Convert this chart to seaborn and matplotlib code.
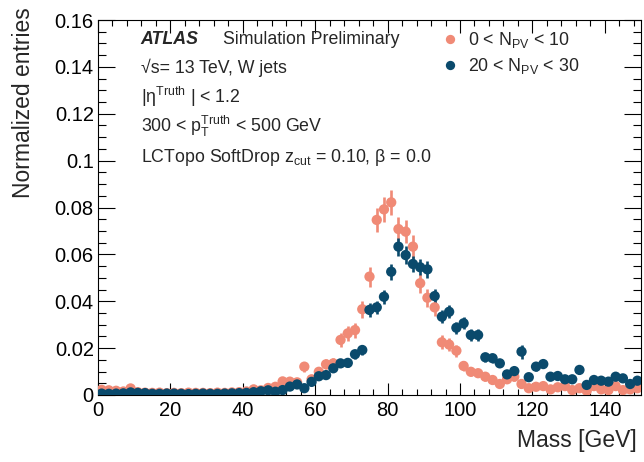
import numpy as np
import pandas as pd
import matplotlib
matplotlib.use("Agg")
import matplotlib.pyplot as plt
import seaborn as sns
from matplotlib.ticker import MultipleLocator, FixedLocator, FixedFormatter
from matplotlib.lines import Line2D

# ---------------- data ----------------
mass_centers = list(range(1, 150, 2))  # 2 GeV bins, 0-150 GeV

low_pv = [0.0022, 0.0020, 0.0018, 0.0015, 0.0028, 0.0012, 0.0010, 0.0009, 0.0010, 0.0008,
          0.0009, 0.0008, 0.0010, 0.0009, 0.0009, 0.0008, 0.0010, 0.0009, 0.0011, 0.0012,
          0.0015, 0.0024, 0.0020, 0.0030, 0.0035,
          0.0058, 0.0057, 0.0054, 0.0121, 0.0067, 0.0099, 0.0131, 0.0135, 0.0235, 0.0263,
          0.0277, 0.0366, 0.0505, 0.0747, 0.0792, 0.0822, 0.0708, 0.0697, 0.0633, 0.0477,
          0.0415, 0.0374, 0.0225, 0.0215, 0.0189, 0.0124, 0.0099, 0.0093, 0.0078, 0.0064,
          0.0047, 0.0067, 0.0078, 0.0047, 0.0029, 0.0035, 0.0038, 0.0024, 0.0033, 0.0038,
          0.0021, 0.0029, 0.0018, 0.0038, 0.0024, 0.0021, 0.0038, 0.0021, 0.0024, 0.0029]
low_pv_err = [0.0009, 0.0009, 0.0008, 0.0008, 0.0010, 0.0007, 0.0006, 0.0006, 0.0006, 0.0005,
              0.0006, 0.0005, 0.0006, 0.0006, 0.0006, 0.0005, 0.0006, 0.0006, 0.0006, 0.0007,
              0.0007, 0.0009, 0.0008, 0.0010, 0.0011,
              0.0014, 0.0014, 0.0014, 0.0021, 0.0016, 0.0019, 0.0022, 0.0022, 0.0029, 0.0031,
              0.0032, 0.0036, 0.0043, 0.0052, 0.0053, 0.0054, 0.0050, 0.0050, 0.0048, 0.0041,
              0.0039, 0.0037, 0.0029, 0.0028, 0.0026, 0.0021, 0.0019, 0.0018, 0.0017, 0.0015,
              0.0013, 0.0016, 0.0017, 0.0013, 0.0010, 0.0011, 0.0012, 0.0009, 0.0011, 0.0012,
              0.0009, 0.0010, 0.0008, 0.0012, 0.0009, 0.0009, 0.0012, 0.0009, 0.0009, 0.0010]

high_pv = [0.0006, 0.0005, 0.0006, 0.0007, 0.0011, 0.0009, 0.0008, 0.0005, 0.0005, 0.0006,
           0.0006, 0.0005, 0.0004, 0.0005, 0.0006, 0.0005, 0.0005, 0.0006, 0.0007, 0.0008,
           0.0009, 0.0012, 0.0016, 0.0020, 0.0014,
           0.0021, 0.0036, 0.0045, 0.0029, 0.0056, 0.0080, 0.0085, 0.0114, 0.0135, 0.0137,
           0.0174, 0.0192, 0.0363, 0.0374, 0.0419, 0.0526, 0.0633, 0.0597, 0.0559, 0.0545,
           0.0536, 0.0422, 0.0334, 0.0355, 0.0287, 0.0306, 0.0256, 0.0256, 0.0161, 0.0157,
           0.0135, 0.0088, 0.0102, 0.0185, 0.0076, 0.0121, 0.0132, 0.0078, 0.0081, 0.0067,
           0.0067, 0.0107, 0.0043, 0.0064, 0.0061, 0.0057, 0.0078, 0.0071, 0.0047, 0.0061]
high_pv_err = [0.0004, 0.0004, 0.0004, 0.0004, 0.0005, 0.0004, 0.0004, 0.0004, 0.0004, 0.0004,
               0.0004, 0.0004, 0.0003, 0.0004, 0.0004, 0.0004, 0.0004, 0.0004, 0.0004, 0.0004,
               0.0005, 0.0005, 0.0006, 0.0007, 0.0006,
               0.0007, 0.0009, 0.0010, 0.0008, 0.0011, 0.0013, 0.0014, 0.0016, 0.0017, 0.0018,
               0.0020, 0.0021, 0.0029, 0.0029, 0.0031, 0.0034, 0.0038, 0.0037, 0.0035, 0.0035,
               0.0035, 0.0031, 0.0027, 0.0028, 0.0025, 0.0026, 0.0024, 0.0024, 0.0019, 0.0019,
               0.0017, 0.0014, 0.0015, 0.0030, 0.0013, 0.0018, 0.0018, 0.0013, 0.0013, 0.0012,
               0.0012, 0.0018, 0.0010, 0.0012, 0.0012, 0.0011, 0.0013, 0.0012, 0.0010, 0.0012]

series_labels = [r"0 < N$_{\mathrm{PV}}$ < 10", r"20 < N$_{\mathrm{PV}}$ < 30"]
series_colors = ["#F08A76", "#0A4A6C"]
y_tick_values = [0, 0.02, 0.04, 0.06, 0.08, 0.1, 0.12, 0.14, 0.16]
y_tick_labels = ["0", "0.02", "0.04", "0.06", "0.08", "0.1", "0.12", "0.14", "0.16"]
x_tick_values = [0, 20, 40, 60, 80, 100, 120, 140]

df = pd.concat([
    pd.DataFrame({"mass": mass_centers, "val": low_pv, "err": low_pv_err, "series": series_labels[0]}),
    pd.DataFrame({"mass": mass_centers, "val": high_pv, "err": high_pv_err, "series": series_labels[1]}),
], ignore_index=True)

# ---------------- style ----------------
sns.set_style("ticks")
plt.rcParams["font.family"] = ["Liberation Sans", "DejaVu Sans"]
plt.rcParams["mathtext.fontset"] = "custom"
plt.rcParams["mathtext.rm"] = "Liberation Sans"
plt.rcParams["mathtext.it"] = "Liberation Sans"
plt.rcParams["mathtext.bf"] = "Liberation Sans:bold"
plt.rcParams["mathtext.sf"] = "Liberation Sans"

W, H = 644, 462
fig = plt.figure(figsize=(W / 100, H / 100), dpi=100)
ax = fig.add_axes([98 / W, 67 / H, 543 / W, 375 / H])

palette = dict(zip(series_labels, series_colors))
for lab in series_labels:
    sub = df[df["series"] == lab]
    ax.errorbar(sub["mass"], sub["val"], yerr=sub["err"], fmt="none",
                ecolor=palette[lab], elinewidth=1.9, capsize=0, zorder=2)
    sns.scatterplot(data=sub, x="mass", y="val", color=palette[lab], s=55,
                    edgecolor="none", linewidth=0, ax=ax, zorder=3, legend=False)

ax.set_xlim(0, 150)
ax.set_ylim(0, 0.16)
ax.xaxis.set_major_locator(FixedLocator(x_tick_values))
ax.xaxis.set_minor_locator(MultipleLocator(4))
ax.yaxis.set_major_locator(FixedLocator(y_tick_values))
ax.yaxis.set_major_formatter(FixedFormatter(y_tick_labels))
ax.yaxis.set_minor_locator(MultipleLocator(0.005))
ax.tick_params(axis="both", which="both", direction="in", top=True, right=True,
               labelsize=14.5, colors="black", width=0.8)
ax.tick_params(axis="x", which="major", length=9, pad=4)
ax.tick_params(axis="x", which="minor", length=4.5)
ax.tick_params(axis="y", which="major", length=12, pad=3)
ax.tick_params(axis="y", which="minor", length=6)
for sp in ax.spines.values():
    sp.set_linewidth(0.8)
    sp.set_color("black")

ax.set_xlabel("")
ax.set_ylabel("")
fig.text(637 / W, 1 - 440 / H, "Mass [GeV]", ha="right", va="center", fontsize=16.5)
fig.text(24 / W, 1 - 7 / H, "Normalized entries", ha="center", va="top",
         rotation=90, fontsize=16.5)

# annotations
fs = 12.8
def ft(px, py, s, **kw):
    fig.text(px / W, 1 - py / H, s, fontsize=fs, va="baseline", ha="left", **kw)

ft(140.7, 43.7, "ATLAS", fontweight="bold", style="italic")
ft(223, 43.7, "Simulation Preliminary")
ft(140.7, 73.2, "√s= 13 TeV, W jets")
ft(140.7, 102.7, r"|η$^{\mathrm{Truth}}$ | < 1.2")
ft(140.7, 132.2, r"300 < p$_{\mathrm{T}}^{\mathrm{Truth}}$ < 500 GeV")
ft(140.7, 161.7, r"LCTopo SoftDrop z$_{\mathrm{cut}}$ = 0.10, β = 0.0")

handles = [Line2D([], [], marker="o", linestyle="none", markersize=6.7,
                  markerfacecolor=c, markeredgecolor="none") for c in series_colors]
leg = ax.legend(handles, series_labels, loc="upper left",
                bbox_to_anchor=(443 / W, 1 - 30 / H), bbox_transform=fig.transFigure,
                frameon=False, fontsize=fs, handlelength=0.8, handletextpad=0.6,
                labelspacing=0.35, borderaxespad=0, borderpad=0)

fig.savefig("out.png", dpi=100)
